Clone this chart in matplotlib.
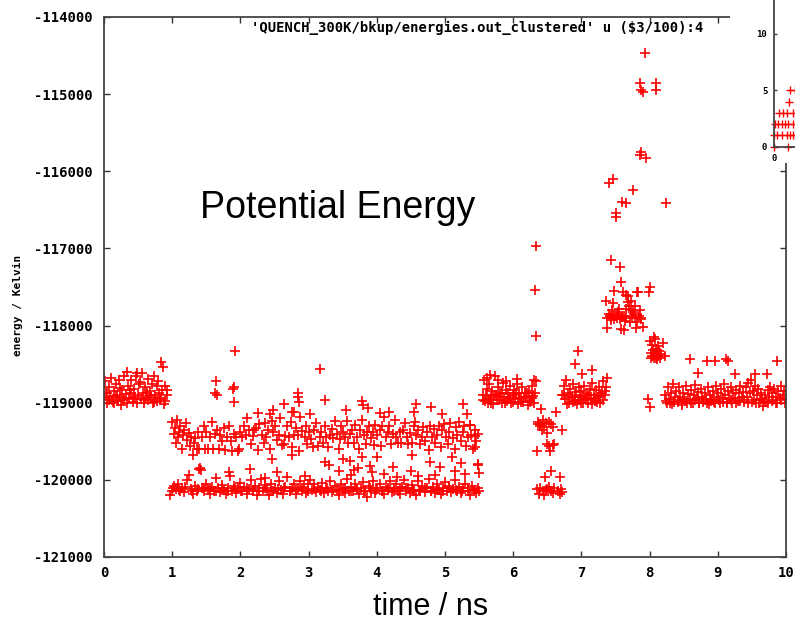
import numpy as np
import matplotlib
matplotlib.use("Agg")
import matplotlib.pyplot as plt
from matplotlib.patches import Rectangle

# ---------------- data: (time / ns, energy / Kelvin) ----------------
band_0_1 = [
    (0.00, -118950), (0.02, -118720), (0.04, -118880), (0.05, -119000), (0.07, -118800), (0.09, -118930),
    (0.10, -118680), (0.12, -118960), (0.14, -118850), (0.15, -119010), (0.17, -118760), (0.19, -118900),
    (0.20, -118980), (0.22, -118700), (0.24, -118920), (0.25, -119030), (0.27, -118830), (0.29, -118950),
    (0.30, -118650), (0.32, -118890), (0.34, -119000), (0.35, -118780), (0.37, -118940), (0.39, -118700),
    (0.40, -118870), (0.42, -118990), (0.44, -118820), (0.45, -118930), (0.47, -118650), (0.49, -119010),
    (0.50, -118900), (0.52, -118760), (0.54, -118950), (0.55, -118620), (0.57, -118880), (0.59, -119000),
    (0.60, -118800), (0.62, -118940), (0.64, -118690), (0.65, -118970), (0.67, -118850), (0.69, -118920),
    (0.70, -118760), (0.72, -119000), (0.74, -118650), (0.75, -118900), (0.77, -118980), (0.79, -118720),
    (0.80, -118880), (0.82, -118950), (0.84, -118470), (0.85, -118830), (0.87, -118540), (0.89, -118980),
    (0.90, -118780), (0.92, -118900), (0.03, -118870), (0.13, -118990), (0.23, -118810), (0.33, -118600),
    (0.43, -118950), (0.53, -118730), (0.63, -118880), (0.73, -118990), (0.83, -118940), (0.93, -118830),
    (0.08, -118960), (0.18, -118910), (0.28, -118970), (0.38, -118840), (0.48, -118620), (0.58, -118960),
    (0.68, -118900), (0.78, -118780), (0.88, -119020),
]

upper_band_1_5 = [
    (1.00, -119250), (1.02, -119400), (1.04, -119330), (1.05, -119520), (1.07, -119220), (1.09, -119450),
    (1.10, -119380), (1.12, -119300), (1.14, -119600), (1.16, -119420), (1.18, -119350), (1.20, -119260),
    (1.22, -119480), (1.24, -119390), (1.26, -119560), (1.28, -119440), (1.30, -119680), (1.32, -119520),
    (1.34, -119460), (1.36, -119600), (1.38, -119380), (1.40, -119600), (1.43, -119450), (1.46, -119300),
    (1.48, -119600), (1.50, -119380), (1.53, -119600), (1.56, -119450), (1.58, -119250), (1.60, -119600),
    (1.63, -119400), (1.66, -119350), (1.68, -119600), (1.70, -119420), (1.73, -119500), (1.76, -119330),
    (1.78, -119610), (1.80, -119450), (1.83, -119300), (1.86, -119500), (1.88, -119620), (1.90, -119400),
    (1.93, -119450), (1.96, -119620), (1.98, -119600), (2.00, -119380), (2.03, -119440), (2.06, -119300),
    (2.08, -119420), (2.10, -119200), (2.13, -119350), (2.16, -119540), (2.18, -119430), (2.20, -119360),
    (2.23, -119330), (2.26, -119610), (2.28, -119270), (2.31, -119420), (2.34, -119520), (2.36, -119260),
    (2.38, -119440), (2.41, -119350), (2.44, -119600), (2.46, -119240), (2.48, -119380), (2.51, -119300),
    (2.54, -119480), (2.56, -119420), (2.58, -119200), (2.61, -119550), (2.64, -119540), (2.66, -119430),
    (2.68, -119300), (2.71, -119440), (2.74, -119250), (2.76, -119580), (2.78, -119420), (2.81, -119330),
    (2.84, -119420), (2.86, -119620), (2.88, -119180), (2.91, -119370), (2.94, -119440), (2.96, -119300),
    (2.98, -119540), (3.01, -119380), (3.04, -119470), (3.06, -119580), (3.08, -119350), (3.11, -119260),
    (3.14, -119560), (3.16, -119440), (3.18, -119380), (3.21, -119520), (3.24, -119300), (3.26, -119450),
    (3.29, -119580), (3.31, -119420), (3.34, -119340), (3.36, -119460), (3.38, -119240), (3.41, -119400),
    (3.44, -119600), (3.46, -119470), (3.48, -119300), (3.51, -119380), (3.54, -119440), (3.56, -119240),
    (3.58, -119520), (3.61, -119400), (3.64, -119350), (3.66, -119520), (3.68, -119290), (3.71, -119450),
    (3.74, -119600), (3.76, -119360), (3.78, -119220), (3.81, -119420), (3.84, -119540), (3.86, -119380),
    (3.88, -119300), (3.91, -119460), (3.94, -119380), (3.96, -119550), (3.98, -119290), (4.01, -119420),
    (4.04, -119350), (4.06, -119560), (4.08, -119300), (4.11, -119180), (4.14, -119450), (4.16, -119380),
    (4.18, -119300), (4.21, -119530), (4.24, -119410), (4.26, -119220), (4.28, -119440), (4.31, -119520),
    (4.34, -119380), (4.36, -119520), (4.38, -119360), (4.41, -119260), (4.44, -119450), (4.46, -119540),
    (4.48, -119390), (4.51, -119520), (4.54, -119300), (4.56, -119250), (4.58, -119420), (4.61, -119350),
    (4.64, -119530), (4.66, -119440), (4.68, -119320), (4.71, -119500), (4.74, -119380), (4.76, -119610),
    (4.78, -119300), (4.81, -119450), (4.84, -119340), (4.86, -119520), (4.88, -119420), (4.91, -119300),
    (4.94, -119580), (4.96, -119360), (4.98, -119270), (5.01, -119440), (5.04, -119540), (5.06, -119380),
    (5.08, -119260), (5.11, -119460), (5.14, -119600), (5.16, -119320), (5.18, -119420), (5.21, -119250),
    (5.24, -119500), (5.26, -119380), (5.28, -119300), (5.31, -119560), (5.34, -119450), (5.36, -119290),
    (5.38, -119420), (5.41, -119600), (5.44, -119350), (5.46, -119500), (5.48, -119400),
]

lower_band_1_5 = [
    (0.97, -120200), (1.00, -120150), (1.03, -120080), (1.06, -120120), (1.09, -120050), (1.12, -120140),
    (1.15, -120100), (1.18, -120160), (1.21, -120000), (1.24, -119940), (1.27, -120120), (1.30, -120180),
    (1.33, -120080), (1.36, -120140), (1.39, -119860), (1.41, -119840), (1.43, -120100), (1.46, -120150),
    (1.49, -120050), (1.52, -120120), (1.55, -120180), (1.58, -120090), (1.61, -120140), (1.64, -119980),
    (1.67, -120110), (1.70, -120160), (1.73, -120070), (1.76, -120130), (1.79, -120180), (1.82, -120100),
    (1.85, -119950), (1.88, -120140), (1.91, -120080), (1.94, -120170), (1.97, -120110), (2.00, -120040),
    (2.03, -120150), (2.06, -120090), (2.09, -120180), (2.12, -120120), (2.15, -120000), (2.18, -120140),
    (2.21, -120080), (2.24, -120190), (2.27, -120110), (2.30, -119990), (2.33, -120150), (2.36, -120070),
    (2.39, -120130), (2.42, -120200), (2.45, -120060), (2.48, -120140), (2.51, -120100), (2.54, -120170),
    (2.57, -120020), (2.60, -120130), (2.63, -120180), (2.66, -120090), (2.69, -119960), (2.72, -120150),
    (2.75, -120110), (2.78, -120060), (2.81, -120180), (2.84, -120120), (2.87, -120010), (2.90, -120140),
    (2.93, -120090), (2.96, -120170), (2.99, -120050), (3.02, -120000), (3.05, -120130), (3.08, -120060),
    (3.11, -120160), (3.14, -120090), (3.17, -120130), (3.20, -120040), (3.23, -120170), (3.26, -120100),
    (3.29, -120140), (3.32, -120020), (3.35, -120160), (3.38, -120080), (3.41, -120130), (3.44, -120190),
    (3.47, -120060), (3.50, -120120), (3.53, -120170), (3.56, -119990), (3.59, -120140), (3.62, -120090),
    (3.65, -120150), (3.68, -120060), (3.71, -120120), (3.74, -120180), (3.77, -120100), (3.80, -120030),
    (3.83, -120150), (3.86, -120220), (3.89, -120080), (3.92, -120140), (3.95, -120020), (3.98, -120170),
    (4.01, -120110), (4.04, -120050), (4.07, -120140), (4.10, -120180), (4.13, -120090), (4.16, -120130),
    (4.19, -120010), (4.22, -120160), (4.25, -120100), (4.28, -120060), (4.31, -120140), (4.34, -120180),
    (4.37, -120090), (4.40, -120000), (4.43, -120150), (4.46, -120110), (4.49, -120170), (4.52, -120070),
    (4.55, -120130), (4.58, -120190), (4.61, -120020), (4.64, -120140), (4.67, -120080), (4.70, -120160),
    (4.73, -120110), (4.76, -119990), (4.79, -120140), (4.82, -120090), (4.85, -120170), (4.88, -120050),
    (4.91, -120130), (4.94, -120180), (4.97, -120100), (5.00, -120030), (5.03, -120150), (5.06, -120080),
    (5.09, -120160), (5.12, -120120), (5.15, -120000), (5.18, -120140), (5.21, -120090), (5.24, -120170),
    (5.27, -120110), (5.30, -120060), (5.33, -120150), (5.36, -120190), (5.39, -120080), (5.42, -120130),
    (5.45, -120170), (5.48, -120100), (5.50, -120150),
    (1.015, -120110), (1.105, -120130), (1.195, -120090), (1.285, -120140), (1.375, -120120), (1.465, -120100),
    (1.555, -120130), (1.645, -120150), (1.735, -120110), (1.825, -120140), (1.915, -120120), (2.005, -120150),
    (2.095, -120100), (2.185, -120130), (2.275, -120150), (2.365, -120110), (2.455, -120140), (2.545, -120120),
    (2.635, -120100), (2.725, -120150), (2.815, -120130), (2.905, -120110), (2.995, -120140), (3.085, -120120),
    (3.175, -120150), (3.265, -120100), (3.355, -120130), (3.445, -120140), (3.535, -120110), (3.625, -120150),
    (3.715, -120120), (3.805, -120140), (3.895, -120100), (3.985, -120130), (4.075, -120150), (4.165, -120110),
    (4.255, -120140), (4.345, -120120), (4.435, -120100), (4.525, -120150), (4.615, -120130), (4.705, -120110),
    (4.795, -120140), (4.885, -120120), (4.975, -120150), (5.065, -120100), (5.155, -120130), (5.245, -120140),
    (5.335, -120110), (5.425, -120130),
]

between_bands = [
    (1.42, -119870), (1.83, -119900), (2.14, -119862), (2.36, -119980), (2.47, -119728), (2.75, -119677),
    (2.53, -119900), (2.95, -119950), (3.24, -119763), (3.30, -119810), (3.51, -119732), (3.45, -119880),
    (3.62, -119940), (3.78, -119698), (3.72, -119850), (3.90, -119820), (3.93, -119900), (4.00, -119698),
    (4.10, -119920), (4.24, -119828), (4.30, -119960), (4.50, -119880), (4.51, -119677), (4.60, -119950),
    (4.78, -119763), (4.85, -119936), (4.93, -119828), (5.10, -119698), (5.15, -119880), (5.24, -119785),
    (5.30, -119930), (5.49, -119793), (5.50, -119910), (5.48, -119806), (5.44, -119569), (5.37, -119290),
    (5.44, -119430), (3.60, -119760), (3.66, -119870),
]

above_bands = [
    (1.64, -118713), (1.63, -118877), (1.65, -118900), (1.89, -118825), (1.90, -118800), (1.91, -118986),
    (1.92, -118325), (2.85, -118877), (2.86, -118986), (2.84, -118920), (2.64, -119020), (2.48, -119093),
    (2.75, -119115), (2.78, -119115), (3.16, -118566), (3.24, -118964), (3.78, -118973), (3.80, -119030),
    (3.87, -119072), (4.18, -119115), (4.58, -119020), (4.55, -119120), (4.79, -119050), (5.26, -119020),
    (2.26, -119130), (2.43, -119150), (3.02, -119140), (3.55, -119100), (4.05, -119130), (4.95, -119140),
    (5.32, -119150),
]

band_5_6 = [
    (5.55, -118900), (5.57, -118700), (5.59, -118980), (5.61, -118820), (5.63, -119000), (5.65, -118760),
    (5.67, -118930), (5.69, -118850), (5.71, -119020), (5.73, -118650), (5.75, -118900), (5.77, -118800),
    (5.79, -118960), (5.81, -118880), (5.83, -119010), (5.85, -118740), (5.87, -118920), (5.89, -118830),
    (5.91, -118980), (5.93, -118870), (5.95, -118780), (5.97, -119000), (5.99, -118900), (6.01, -118840),
    (6.03, -118950), (6.05, -118760), (6.07, -119020), (6.09, -118880), (6.11, -118940), (6.13, -118800),
    (6.15, -118990), (6.17, -118870), (6.19, -118920), (6.21, -119030), (6.23, -118850), (6.25, -118960),
    (6.27, -118780), (6.29, -118910), (6.31, -119000), (6.33, -118720), (5.56, -118960), (5.60, -118900),
    (5.64, -118950), (5.68, -119000), (5.72, -118900), (5.76, -118970), (5.80, -118920), (5.84, -118880),
    (5.88, -119000), (5.92, -118950), (5.96, -118920), (6.00, -118990), (6.04, -118870), (6.08, -118940),
    (6.12, -118990), (6.16, -118920), (6.20, -118880), (6.24, -118990), (6.28, -118940), (6.32, -118880),
    (5.62, -118680), (5.66, -118640), (5.78, -118700), (6.30, -118700), (5.90, -118720), (6.06, -118690),
]

spike_6_3 = [(6.33, -116963), (6.32, -117538), (6.33, -118130)]

dip_6_5 = [
    (6.41, -119085), (6.63, -119115), (6.37, -119250), (6.39, -119300), (6.40, -119280), (6.42, -119350),
    (6.45, -119320), (6.48, -119260), (6.50, -119390), (6.52, -119250), (6.55, -119270), (6.58, -119320),
    (6.71, -119352), (6.35, -119625), (6.54, -119625), (6.50, -119530), (6.53, -119560), (6.58, -119550),
    (6.60, -119540), (6.55, -119880), (6.47, -119957), (6.69, -119957), (6.35, -120120), (6.38, -120180),
    (6.40, -120100), (6.43, -120150), (6.45, -120190), (6.48, -120130), (6.50, -120120), (6.53, -120090),
    (6.55, -120150), (6.58, -120170), (6.60, -120110), (6.65, -120140), (6.68, -120180), (6.70, -120120),
    (6.72, -120160), (6.36, -119280), (6.44, -119230),
]

band_6_7 = [
    (6.72, -118900), (6.74, -118780), (6.76, -118950), (6.78, -118700), (6.80, -118880), (6.82, -119000),
    (6.84, -118820), (6.86, -118930), (6.88, -118760), (6.90, -118980), (6.92, -118860), (6.94, -119020),
    (6.96, -118800), (6.98, -118920), (7.00, -118850), (7.02, -119000), (7.04, -118780), (7.06, -118940),
    (7.08, -118880), (7.10, -119010), (7.12, -118820), (7.14, -118950), (7.16, -118750), (7.18, -118900),
    (7.20, -118980), (7.22, -118840), (7.24, -118930), (7.26, -118790), (7.28, -119000), (7.30, -118870),
    (7.32, -118720), (7.34, -118900), (7.36, -118800), (7.38, -118680), (6.75, -118900), (6.79, -119020),
    (6.83, -118930), (6.87, -118990), (6.91, -118900), (6.95, -118960), (6.99, -119000), (7.03, -118910),
    (7.07, -118970), (7.11, -118900), (7.15, -119020), (7.19, -118940), (7.23, -118990), (7.27, -118910),
    (7.31, -118960), (7.35, -118850), (6.95, -118325), (6.90, -118501), (7.01, -118630), (7.15, -118575),
]

excursion_7_8 = [
    (7.93, -114463), (7.86, -114860), (7.88, -114946), (7.90, -114968), (8.10, -114851), (8.09, -114946),
    (7.88, -115745), (7.86, -115788), (7.95, -115824), (7.47, -116104), (7.41, -116147), (7.75, -116242),
    (7.60, -116393), (7.65, -116415), (8.24, -116406), (7.51, -116545), (7.51, -116588), (7.43, -117150),
    (7.57, -117236), (7.58, -117430), (7.48, -117551), (7.61, -117560), (7.83, -117560), (8.00, -117495),
    (7.99, -117560), (7.66, -117603), (7.81, -117560), (7.36, -117680), (7.47, -117710),
    (7.37, -117900), (7.38, -118030), (7.40, -117850), (7.42, -117880), (7.44, -117900), (7.46, -117870),
    (7.48, -117920), (7.50, -117880), (7.52, -117900), (7.54, -117850), (7.56, -117920), (7.58, -118040),
    (7.60, -117890), (7.62, -117870), (7.64, -117940), (7.66, -117780), (7.68, -117700), (7.70, -117750),
    (7.72, -117800), (7.74, -117880), (7.76, -117830), (7.78, -117900), (7.80, -118030), (7.82, -117950),
    (7.84, -117870), (7.86, -117800), (7.88, -117900), (7.90, -118020), (7.45, -117800), (7.55, -117780),
    (7.65, -117900), (7.71, -117950), (7.79, -117750), (7.63, -118060), (7.53, -117830), (7.43, -117930),
    (7.73, -117680), (7.69, -117620), (7.77, -117850), (7.87, -117920),
    (8.00, -118200), (8.02, -118350), (8.03, -118250), (8.04, -118400), (8.05, -118320), (8.06, -118420),
    (8.07, -118150), (8.08, -118380), (8.09, -118300), (8.10, -118420), (8.11, -118350), (8.12, -118260),
    (8.13, -118400), (8.14, -118330), (8.15, -118420), (8.16, -118370), (8.02, -118420), (8.05, -118390),
    (8.11, -118430), (8.08, -118170), (7.98, -118950), (8.00, -119050),
]

band_8_10 = [
    (8.23, -118900), (8.25, -119000), (8.27, -118800), (8.29, -118950), (8.31, -118870), (8.33, -119020),
    (8.35, -118760), (8.37, -118930), (8.39, -118850), (8.41, -118990), (8.43, -118800), (8.45, -118920),
    (8.47, -119030), (8.49, -118870), (8.51, -118950), (8.53, -118780), (8.55, -119000), (8.57, -118890),
    (8.59, -118960), (8.61, -118840), (8.63, -119010), (8.65, -118900), (8.67, -118770), (8.69, -118940),
    (8.71, -118860), (8.73, -119000), (8.75, -118820), (8.77, -118930), (8.79, -118990), (8.81, -118870),
    (8.83, -118950), (8.85, -118800), (8.87, -119020), (8.89, -118900), (8.91, -118960), (8.93, -118850),
    (8.95, -118990), (8.97, -118780), (8.99, -118930), (9.01, -118870), (9.03, -119010), (9.05, -118820),
    (9.07, -118940), (9.09, -118760), (9.11, -118900), (9.13, -118990), (9.15, -118850), (9.17, -118950),
    (9.19, -118800), (9.21, -119000), (9.23, -118880), (9.25, -118940), (9.27, -118830), (9.29, -118980),
    (9.31, -118870), (9.33, -118780), (9.35, -118930), (9.37, -118860), (9.39, -118990), (9.41, -118800),
    (9.43, -118920), (9.45, -118740), (9.47, -118880), (9.49, -118700), (9.51, -118850), (9.53, -118960),
    (9.55, -118780), (9.57, -118900), (9.59, -118820), (9.61, -119000), (9.63, -118870), (9.65, -118950),
    (9.67, -119040), (9.69, -118900), (9.71, -118990), (9.73, -118840), (9.75, -118930), (9.77, -118790),
    (9.79, -118880), (9.81, -118960), (9.83, -118820), (9.85, -118920), (9.87, -119000), (9.89, -118850),
    (9.91, -118940), (9.93, -118780), (9.95, -118900), (9.97, -118850), (9.99, -118950),
    (8.24, -118980), (8.30, -119000), (8.36, -118990), (8.42, -118960), (8.48, -119000), (8.54, -118980),
    (8.60, -119010), (8.66, -118970), (8.72, -119000), (8.78, -118960), (8.84, -119000), (8.90, -118980),
    (8.96, -119010), (9.02, -118960), (9.08, -118990), (9.14, -119000), (9.20, -118970), (9.26, -119010),
    (9.32, -118980), (9.38, -118960), (9.44, -119000), (9.50, -118990), (9.56, -119010), (9.62, -118970),
    (9.68, -118990), (9.74, -119000), (9.80, -118980), (9.86, -119010), (9.92, -118970), (9.98, -119000),
    (8.59, -118437), (8.84, -118455), (8.96, -118455), (9.12, -118437), (9.15, -118455), (9.87, -118455),
    (8.71, -118618), (9.25, -118627), (9.54, -118627), (9.72, -118627), (8.20, -118230), (8.22, -118400),
]

# partially visible inset (counts)
inset_x = [0.0, 4.1, 0.0, 0.9, 2.2, 3.7, 4.7, 5.7, 0.2, 1.2, 2.2, 3.2, 4.2, 5.7, 1.5, 2.7, 3.9, 5.7, 4.5, 4.7, 6.3]
inset_y = [0, 0, 1, 1, 1, 1, 1, 1, 2, 2, 2, 2, 2, 2, 3, 3, 3, 3, 4, 5, 5]

x_ticks = list(range(0, 11))
y_ticks = [-121000, -120000, -119000, -118000, -117000, -116000, -115000, -114000]
key_label = "'QUENCH_300K/bkup/energies.out_clustered' u ($3/100):4"

all_points = np.array(band_0_1 + upper_band_1_5 + lower_band_1_5 + between_bands + above_bands +
                      band_5_6 + spike_6_3 + dip_6_5 + band_6_7 + excursion_7_8 + band_8_10, dtype=float)
t, energy = all_points[:, 0], all_points[:, 1]

# ---------------- figure ----------------
W, H = 795, 625
fig = plt.figure(figsize=(W / 100, H / 100), dpi=100)
fig.patch.set_facecolor("white")

L, R, T, B = 104, 786, 17, 557
ax = fig.add_axes([L / W, 1 - B / H, (R - L) / W, (B - T) / H])
ax.plot(t, energy, linestyle="none", marker="+", markersize=7.5, markeredgewidth=1.2, color="#ff0000")
ax.set_xlim(0, 10)
ax.set_ylim(-121000, -114000)

mono = "DejaVu Sans Mono"
ax.set_xticks(x_ticks)
ax.set_xticklabels([str(v) for v in x_ticks], fontfamily=mono, fontweight="bold", fontsize=10)
ax.set_yticks(y_ticks)
ax.set_yticklabels([str(v) for v in y_ticks], fontfamily=mono, fontweight="bold", fontsize=10)
ax.tick_params(axis="both", direction="in", length=4.5, width=1.0, color="#333333",
               top=True, right=True, labelcolor="black")
ax.tick_params(axis="x", pad=6.5)
ax.tick_params(axis="y", pad=8)
for s in ax.spines.values():
    s.set_color("#444444")
    s.set_linewidth(1.3)

ax.text((703 - L) / (R - L), 1 - (28 - T) / (B - T), key_label, transform=ax.transAxes,
        ha="right", va="center", fontfamily=mono, fontweight="bold", fontsize=10)

fig.text(200 / W, 1 - 208 / H, "Potential Energy", ha="left", va="center",
         fontfamily="Liberation Sans", fontsize=27)
fig.text(431 / W, 1 - 607 / H, "time / ns", ha="center", va="center",
         fontfamily="Liberation Sans", fontsize=22)
fig.text(18 / W, 1 - 305 / H, "energy / Kelvin", ha="center", va="center", rotation=90,
         fontfamily=mono, fontweight="bold", fontsize=8)

# white area of the overlapping inset
fig.patches.append(Rectangle((730 / W, 1 - 163 / H), (W - 730) / W, 163 / H,
                             transform=fig.transFigure, facecolor="white", edgecolor="none", zorder=2))

# inset axes (partially outside the figure)
iL, iB = 774.3, 146.7
inset = fig.add_axes([iL / W, 1 - iB / H, 100 / W, iB / H])
inset.set_zorder(5)
inset.plot(inset_x, inset_y, linestyle="none", marker="+", markersize=6, markeredgewidth=1.0,
           color="#ff0000", clip_on=False)
inset.set_xlim(0, 30)
inset.set_ylim(0, 13.0)
inset.set_yticks([0, 5, 10])
inset.set_yticklabels(["0", "5", "10"], fontfamily=mono, fontweight="bold", fontsize=6.5)
inset.set_xticks([0])
inset.set_xticklabels(["0"], fontfamily=mono, fontweight="bold", fontsize=6.5)
inset.tick_params(direction="in", length=2.5, width=1.0, color="#333333", pad=5)
inset.spines["top"].set_visible(False)
inset.spines["right"].set_visible(False)
for s in ("left", "bottom"):
    inset.spines[s].set_color("#444444")
    inset.spines[s].set_linewidth(1.3)

fig.savefig("out.png", dpi=100)
